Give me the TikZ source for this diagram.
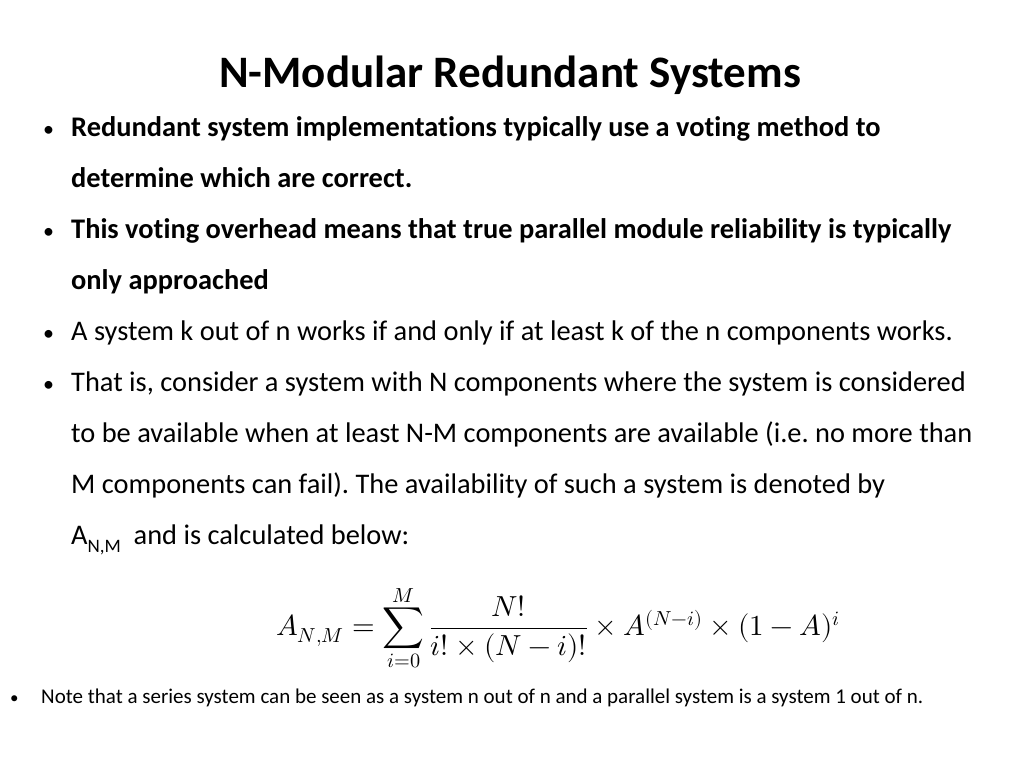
\documentclass[tikz,border=0pt]{standalone}
\usepackage{fontspec}
\usepackage{unicode-math}
\setmainfont{Carlito}[RawFeature=-liga]
\setmathfont{Latin Modern Math}
\begin{document}
\begin{tikzpicture}[x=1pt,y=1pt,
  tl/.style={anchor=base west,inner sep=0pt,font=\fontsize{28.4}{34}\selectfont},
  bl/.style={anchor=base west,inner sep=0pt,font=\fontsize{22}{30}\selectfont}]
\useasboundingbox (0,0) rectangle (1024,768);
\node[anchor=base,inner sep=0pt,font=\fontsize{45}{54}\selectfont\bfseries] (title) at (510,680) {N-Modular Redundant Systems};
\node[bl] (b1) at (43,631) {•};
\node[tl,font=\fontsize{28.4}{34}\selectfont\bfseries] (t1) at (71,631) {Redundant system implementations typically use a voting method to};
\node[tl,font=\fontsize{28.4}{34}\selectfont\bfseries] (t2) at (71,580) {determine which are correct.};
\node[bl] (b2) at (43,529) {•};
\node[tl,font=\fontsize{28.4}{34}\selectfont\bfseries] (t3) at (71,529) {This voting overhead means that true parallel module reliability is typically};
\node[tl,font=\fontsize{28.4}{34}\selectfont\bfseries] (t4) at (71,478) {only approached};
\node[bl] (b3) at (43,427) {•};
\node[tl] (t5) at (71,427) {A system k out of n works if and only if at least k of the n components works.};
\node[bl] (b4) at (43,376) {•};
\node[tl] (t6) at (71,376) {That is, consider a system with N components where the system is considered};
\node[tl] (t7) at (71,325) {to be available when at least N-M components are available (i.e.\ no more than};
\node[tl] (t8) at (71,274) {M components can fail).\ The availability of such a system is denoted by};
\node[tl] (t9) at (71,223) {A\raisebox{-0.25em}{\fontsize{19}{22}\selectfont N,M}\ \ and is calculated below:};
\node[inner sep=0pt,font=\fontsize{29}{34}\selectfont] (eq) at (558,140)
  {$\displaystyle A_{N,M}=\sum_{i=0}^{M}\frac{N!}{i!\times(N-i)!}\times A^{(N-i)}\times(1-A)^{i}$};
\node[anchor=base west,inner sep=0pt,font=\fontsize{17}{22}\selectfont] (b5) at (10,65) {•};
\node[anchor=base west,inner sep=0pt,font=\fontsize{21}{25}\selectfont] (t10) at (41,65) {Note that a series system can be seen as a system n out of n and a parallel system is a system 1 out of n.};
\end{tikzpicture}
\end{document}
